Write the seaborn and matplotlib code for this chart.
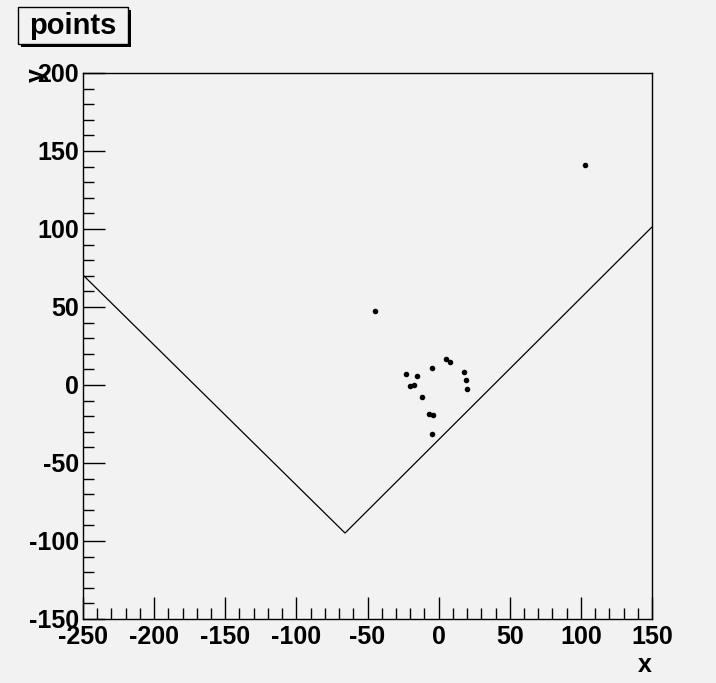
import matplotlib
matplotlib.use("Agg")
import matplotlib.pyplot as plt
from matplotlib.patches import Rectangle
from matplotlib.ticker import MultipleLocator
import seaborn as sns
import pandas as pd

# data
pts_x = [-45, 5.2, 8.0, -4.9, -22.7, -15.0, 18.1, 19.0, 20.0, -20.1, -17.5, -11.7, -6.5, -3.7, -4.9, 102.9]
pts_y = [47.4, 16.7, 14.9, 11.1, 7.3, 5.8, 8.1, 3.2, -2.8, -0.6, 0.2, -7.5, -18.4, -19.4, -31.6, 140.8]
line_x = [-250, -65.8, 150]
line_y = [70.5, -94.9, 101.3]
title = "points"
xlim = (-250, 150)
ylim = (-150, 200)

BG = "#f2f2f2"
sns.set_theme(style="white")
plt.rcParams['font.family'] = ['Liberation Sans', 'DejaVu Sans']
plt.rcParams['axes.unicode_minus'] = False

W, H = 716, 683
fig = plt.figure(figsize=(W / 100, H / 100), dpi=100, facecolor=BG)
ax = fig.add_axes([83 / W, 1 - 619 / H, (652 - 83) / W, (619 - 73) / H])
ax.set_facecolor(BG)

df_pts = pd.DataFrame({"x": pts_x, "y": pts_y})
df_line = pd.DataFrame({"x": line_x, "y": line_y})
sns.lineplot(data=df_line, x="x", y="y", sort=False, color="black", linewidth=0.9, ax=ax, estimator=None)
sns.scatterplot(data=df_pts, x="x", y="y", color="black", s=16, marker="o", edgecolor="black", linewidth=0, ax=ax)

ax.set_xlim(*xlim)
ax.set_ylim(*ylim)
ax.set_xlabel("")
ax.set_ylabel("")
for s in ax.spines.values():
    s.set_color("black")
    s.set_linewidth(1.0)
    s.set_visible(True)

ax.xaxis.set_major_locator(MultipleLocator(50))
ax.xaxis.set_minor_locator(MultipleLocator(10))
ax.yaxis.set_major_locator(MultipleLocator(50))
ax.yaxis.set_minor_locator(MultipleLocator(10))
ax.tick_params(which="both", direction="in", bottom=True, left=True, top=False, right=False,
               color="black", width=1.0)
ax.tick_params(which="major", length=16, labelsize=18, pad=4)
ax.tick_params(which="minor", length=8)
ax.tick_params(axis="y", which="major", pad=3)
for lab in ax.get_xticklabels() + ax.get_yticklabels():
    lab.set_fontweight("bold")
    lab.set_color("black")

# axis titles
fig.text(652 / W, 1 - 665 / H, "x", ha="right", va="center", fontsize=18, fontweight="bold", color="black")
fig.text(37 / W, 1 - 68 / H, "y", ha="center", va="top", rotation=90, fontsize=18, fontweight="bold", color="black")

# title box with shadow
fig.patches.append(Rectangle((21 / W, 1 - 47 / H), 110 / W, 37 / H, transform=fig.transFigure,
                             facecolor="black", edgecolor="black", linewidth=0, zorder=1))
fig.patches.append(Rectangle((18 / W, 1 - 44 / H), 110 / W, 37 / H, transform=fig.transFigure,
                             facecolor=BG, edgecolor="black", linewidth=1.0, zorder=2))
fig.text(73 / W, 1 - 26 / H, title, ha="center", va="center", fontsize=21, fontweight="bold",
         color="black", zorder=3)

fig.savefig("out.png", dpi=100, facecolor=BG)
